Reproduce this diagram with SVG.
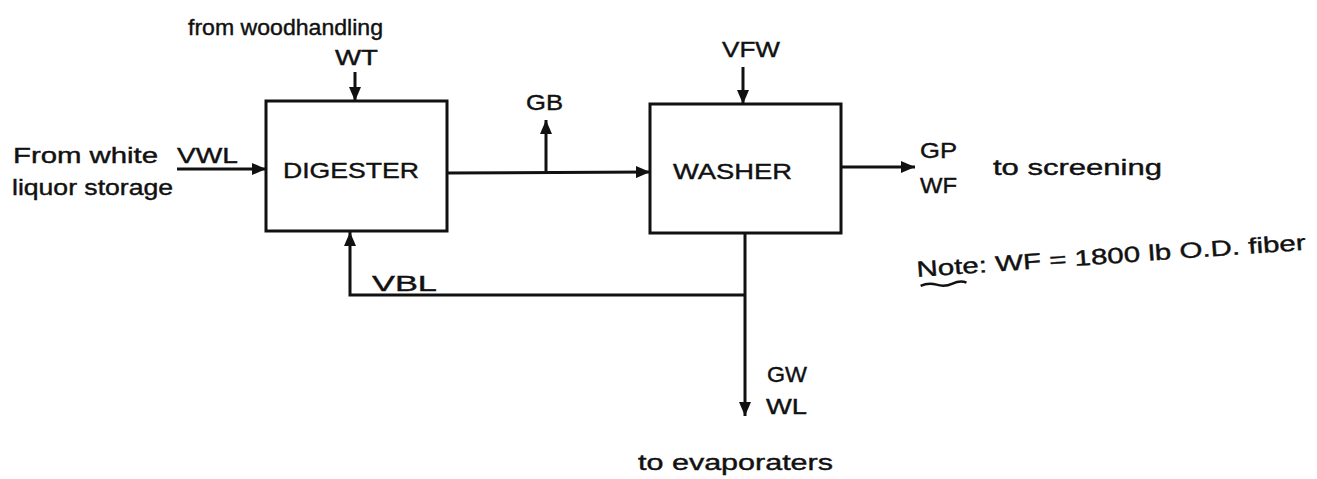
<svg xmlns="http://www.w3.org/2000/svg" width="1317" height="479" viewBox="0 0 1317 479">
<style>
.t{font-family:"Liberation Sans",Arial,sans-serif;fill:#111;font-size:22px;stroke:#111;stroke-width:0.4}
.b{fill:none;stroke:#111;stroke-width:3}
.c{fill:none;stroke:#111;stroke-width:3}
</style>
<defs>
<marker id="ah" viewBox="0 0 14 12" refX="14" refY="6" markerWidth="14" markerHeight="12" markerUnits="userSpaceOnUse" orient="auto">
<path d="M0,0 L14,6 L0,12 Z" fill="#111"/>
</marker>
</defs>
<rect width="1317" height="479" fill="#fff"/>
<g id="digester">
<rect class="b" x="266" y="101" width="181" height="130"/>
<text class="t" x="283" y="178" textLength="136" lengthAdjust="spacingAndGlyphs" font-size="26">DIGESTER</text>
</g>
<g id="washer">
<rect class="b" x="650" y="104" width="191" height="129"/>
<text class="t" x="673" y="179" textLength="119" lengthAdjust="spacingAndGlyphs" font-size="26">WASHER</text>
</g>
<g id="connectors">
<line class="c" x1="177" y1="169" x2="266" y2="169" marker-end="url(#ah)"/>
<line class="c" x1="355" y1="72" x2="355" y2="101" marker-end="url(#ah)"/>
<line class="c" x1="447" y1="173" x2="650" y2="172" marker-end="url(#ah)"/>
<line class="c" x1="546" y1="173" x2="546" y2="120" marker-end="url(#ah)"/>
<line class="c" x1="743" y1="67" x2="743" y2="104" marker-end="url(#ah)"/>
<line class="c" x1="841" y1="167" x2="915" y2="167" marker-end="url(#ah)"/>
<line class="c" x1="745" y1="233" x2="745" y2="416" marker-end="url(#ah)"/>
<path class="c" d="M745,295 H350 V232" marker-end="url(#ah)"/>
</g>
<g id="labels">
<text class="t" x="188" y="35" textLength="195" lengthAdjust="spacingAndGlyphs">from woodhandling</text>
<text class="t" x="335" y="65" textLength="43" lengthAdjust="spacingAndGlyphs">WT</text>
<text class="t" x="526" y="110" textLength="37" lengthAdjust="spacingAndGlyphs" font-size="24">GB</text>
<text class="t" x="722" y="57" textLength="58" lengthAdjust="spacingAndGlyphs" font-size="23">VFW</text>
<text class="t" x="13" y="163" textLength="145" lengthAdjust="spacingAndGlyphs">From white</text>
<text class="t" x="177" y="163" textLength="61" lengthAdjust="spacingAndGlyphs" font-size="23">VWL</text>
<text class="t" x="12" y="195" textLength="161" lengthAdjust="spacingAndGlyphs">liquor storage</text>
<text class="t" x="372" y="291" textLength="65" lengthAdjust="spacingAndGlyphs" font-size="24">VBL</text>
<text class="t" x="920" y="158" textLength="37" lengthAdjust="spacingAndGlyphs">GP</text>
<text class="t" x="920" y="193" textLength="37" lengthAdjust="spacingAndGlyphs">WF</text>
<text class="t" x="993" y="175" textLength="169" lengthAdjust="spacingAndGlyphs" font-size="24">to screening</text>
<text class="t" x="767" y="382" textLength="40" lengthAdjust="spacingAndGlyphs">GW</text>
<text class="t" x="766" y="414" textLength="41" lengthAdjust="spacingAndGlyphs">WL</text>
<text class="t" x="638" y="470" textLength="195" lengthAdjust="spacingAndGlyphs" font-size="24">to evaporaters</text>
<g transform="rotate(-4 917 277)">
<text class="t" x="917" y="277" textLength="390" lengthAdjust="spacingAndGlyphs" font-size="23">Note:  WF = 1800 lb O.D. fiber</text>
<path d="M920,286 q8,-3 16,0 t16,0 t14,0" fill="none" stroke="#111" stroke-width="2.5"/>
</g>
</g>
</svg>
